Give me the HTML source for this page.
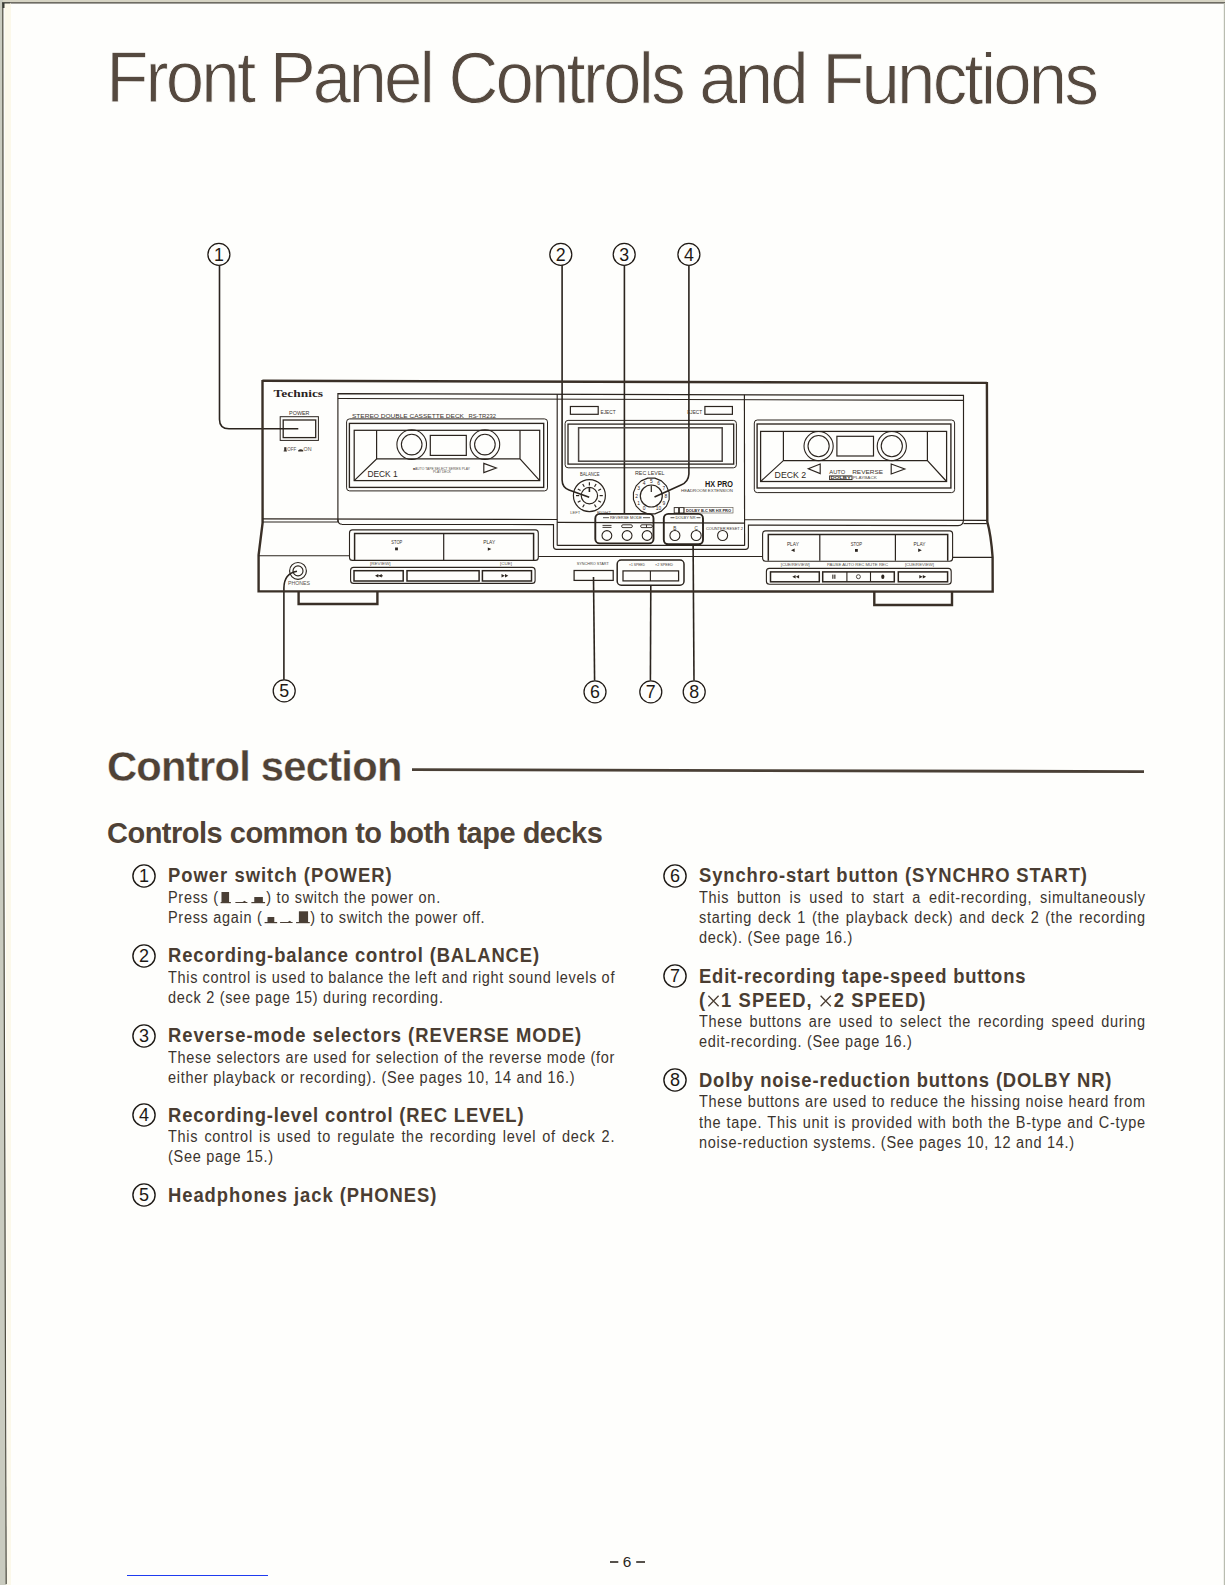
<!DOCTYPE html>
<html><head><meta charset="utf-8">
<style>
html,body{margin:0;padding:0;}
body{width:1225px;height:1585px;position:relative;overflow:hidden;background:#fefefc;font-family:"Liberation Sans",sans-serif;}
.t{position:absolute;white-space:nowrap;line-height:20px;}
.title{position:absolute;left:105.5px;top:37px;font-size:72.5px;line-height:80px;color:#55493f;letter-spacing:-2.9px;white-space:nowrap;transform:rotate(0.13deg) scaleX(0.95);transform-origin:6px 65px;-webkit-text-stroke:0.9px #fefefc;}
.h1{position:absolute;left:107px;font-size:41.7px;font-weight:bold;line-height:50px;color:#4f4236;white-space:nowrap;letter-spacing:-0.74px;-webkit-text-stroke:0.3px #fefefc;}
.h2{position:absolute;left:107px;font-size:29px;font-weight:bold;line-height:36px;color:#4f4236;white-space:nowrap;letter-spacing:-0.5px;}
.hd{position:absolute;font-size:20px;font-weight:bold;line-height:22px;color:#4a3d32;white-space:nowrap;letter-spacing:1.0px;transform:scaleX(0.92);transform-origin:0 0;}
.cn{position:absolute;}
.bd{position:absolute;font-size:15.6px;line-height:20px;color:#3b342e;white-space:nowrap;letter-spacing:0.75px;transform:scaleX(0.93);transform-origin:0 0;}
.j{}
.num{position:absolute;width:22px;height:22px;border:1.3px solid #3a332c;border-radius:50%;box-sizing:border-box;font-size:17px;line-height:21px;text-align:center;color:#3a332c;}
</style></head>
<body>
<svg style="position:absolute;left:0;top:0" width="1225" height="1585">
  <polygon points="0,0 1225,0 1225,2.5 0,2.5" fill="#d6d4c4"/>
  <polygon points="0,0 3,0 4,795 6.5,1585 0,1585" fill="#c9cbbf"/>
  <polyline points="2.8,3 3.6,795 6.2,1584" fill="none" stroke="#4e4c40" stroke-width="1.2"/>
  <line x1="2" y1="2.8" x2="1225" y2="2.8" stroke="#44423a" stroke-width="1.3"/>
  <rect x="2.5" y="2.5" width="7.5" height="5.5" fill="#3a3d36"/>
  <polygon points="4.5,3.5 11,3.5 11,1585 7,1585" fill="#fbf8ea"/>
  <rect x="1223.8" y="3" width="1.2" height="1582" fill="#b9bcb0"/>
  <line x1="412" y1="769.6" x2="1144" y2="771.6" stroke="#4a4036" stroke-width="2.8"/>
  <line x1="127" y1="1575.5" x2="268" y2="1575.5" stroke="#1f3cf0" stroke-width="1.2"/>
</svg>
<div class="title">Front Panel Controls and Functions</div>
<div class="h1" style="top:742px;">Control section</div>
<div class="h2" style="top:815px;">Controls common to both tape decks</div>
<div style="position:absolute;left:622.8px;top:1552px;font-size:15.4px;line-height:20px;color:#2a2622;white-space:nowrap">6</div>
<svg style="position:absolute;left:0;top:0" width="1225" height="1585"><rect x="610" y="1561" width="8.3" height="2" fill="#56514b"/><rect x="636.2" y="1561" width="8.8" height="2" fill="#56514b"/></svg>
<svg class="cn" style="left:130.5px;top:862.6px" width="26" height="26"><circle cx="13" cy="13" r="11.1" fill="none" stroke="#1d1915" stroke-width="1.4"/><text x="13" y="19.3" text-anchor="middle" font-size="18" fill="#1d1915" font-family="Liberation Sans">1</text></svg>
<div class="hd" style="left:167.9px;top:864.07px;letter-spacing:1.100px;">Power switch (POWER)</div>
<div class="bd" style="left:167.9px;top:887.69px;">Press (<svg width="50" height="14" style="vertical-align:-2px;margin-left:1px"><g fill="#4a3f35" transform="scale(1.075,1)"><rect x="0.5" y="11" width="10.3" height="1.2"/><rect x="1.4" y="1" width="7.6" height="11"/><rect x="15.3" y="11" width="12" height="1"/><path d="M22.5 11 l2 -1.2 l1.5 1.2 z"/><rect x="31.3" y="11" width="13.7" height="1.2"/><rect x="34.2" y="6" width="8.6" height="6"/></g></svg>) to switch the power on.</div>
<div class="bd" style="left:167.9px;top:907.79px;">Press again (<svg width="50.4" height="14" style="vertical-align:-2px;margin-left:1px"><g fill="#4a3f35" transform="scale(1.075,1)"><rect x="0.8" y="11" width="12.6" height="1.2"/><rect x="3.7" y="6" width="6.8" height="6"/><rect x="16.3" y="11" width="12.5" height="1"/><path d="M24 11 l2 -1.2 l1.5 1.2 z"/><rect x="32.3" y="11" width="13.7" height="1.2"/><rect x="35.1" y="0.3" width="9.2" height="11.7"/></g></svg>) to switch the power off.</div>
<svg class="cn" style="left:130.5px;top:942.7px" width="26" height="26"><circle cx="13" cy="13" r="11.1" fill="none" stroke="#1d1915" stroke-width="1.4"/><text x="13" y="19.3" text-anchor="middle" font-size="18" fill="#1d1915" font-family="Liberation Sans">2</text></svg>
<div class="hd" style="left:167.9px;top:944.17px;letter-spacing:0.980px;">Recording-balance control (BALANCE)</div>
<div class="bd j" style="left:167.9px;top:967.79px;word-spacing:-0.324px;">This control is used to balance the left and right sound levels of</div>
<div class="bd" style="left:167.9px;top:987.89px;">deck 2 (see page 15) during recording.</div>
<svg class="cn" style="left:130.5px;top:1022.7px" width="26" height="26"><circle cx="13" cy="13" r="11.1" fill="none" stroke="#1d1915" stroke-width="1.4"/><text x="13" y="19.3" text-anchor="middle" font-size="18" fill="#1d1915" font-family="Liberation Sans">3</text></svg>
<div class="hd" style="left:167.9px;top:1024.17px;letter-spacing:1.050px;">Reverse-mode selectors (REVERSE MODE)</div>
<div class="bd j" style="left:167.9px;top:1047.79px;word-spacing:-0.072px;">These selectors are used for selection of the reverse mode (for</div>
<div class="bd" style="left:167.9px;top:1067.89px;">either playback or recording). (See pages 10, 14 and 16.)</div>
<svg class="cn" style="left:130.5px;top:1102.3px" width="26" height="26"><circle cx="13" cy="13" r="11.1" fill="none" stroke="#1d1915" stroke-width="1.4"/><text x="13" y="19.3" text-anchor="middle" font-size="18" fill="#1d1915" font-family="Liberation Sans">4</text></svg>
<div class="hd" style="left:167.9px;top:1103.77px;letter-spacing:0.940px;">Recording-level control (REC LEVEL)</div>
<div class="bd j" style="left:167.9px;top:1127.39px;word-spacing:1.586px;">This control is used to regulate the recording level of deck 2.</div>
<div class="bd" style="left:167.9px;top:1147.49px;">(See page 15.)</div>
<svg class="cn" style="left:130.5px;top:1182.4px" width="26" height="26"><circle cx="13" cy="13" r="11.1" fill="none" stroke="#1d1915" stroke-width="1.4"/><text x="13" y="19.3" text-anchor="middle" font-size="18" fill="#1d1915" font-family="Liberation Sans">5</text></svg>
<div class="hd" style="left:167.9px;top:1183.87px;letter-spacing:1.040px;">Headphones jack (PHONES)</div>
<svg class="cn" style="left:661.5px;top:863.0px" width="26" height="26"><circle cx="13" cy="13" r="11.1" fill="none" stroke="#1d1915" stroke-width="1.4"/><text x="13" y="19.3" text-anchor="middle" font-size="18" fill="#1d1915" font-family="Liberation Sans">6</text></svg>
<div class="hd" style="left:699.4px;top:864.47px;letter-spacing:0.980px;">Synchro-start button (SYNCHRO START)</div>
<div class="bd j" style="left:699.4px;top:888.09px;word-spacing:3.401px;">This button is used to start a edit-recording, simultaneously</div>
<div class="bd j" style="left:699.4px;top:908.19px;word-spacing:1.244px;">starting deck 1 (the playback deck) and deck 2 (the recording</div>
<div class="bd" style="left:699.4px;top:928.29px;">deck). (See page 16.)</div>
<svg class="cn" style="left:661.5px;top:963.1px" width="26" height="26"><circle cx="13" cy="13" r="11.1" fill="none" stroke="#1d1915" stroke-width="1.4"/><text x="13" y="19.3" text-anchor="middle" font-size="18" fill="#1d1915" font-family="Liberation Sans">7</text></svg>
<div class="hd" style="left:699.4px;top:964.57px;letter-spacing:0.880px;">Edit-recording tape-speed buttons</div>
<div class="hd" style="left:699.4px;top:988.57px;letter-spacing:1.220px;">(<svg width="13.5" height="12" style="vertical-align:0px;margin:0 1.5px 0 1px"><path d="M1.2 0.8 L12.3 11.2 M12.3 0.8 L1.2 11.2" stroke="#4a3d32" stroke-width="1.45"/></svg>1 SPEED, <svg width="13.5" height="12" style="vertical-align:0px;margin:0 1.5px 0 1px"><path d="M1.2 0.8 L12.3 11.2 M12.3 0.8 L1.2 11.2" stroke="#4a3d32" stroke-width="1.45"/></svg>2 SPEED)</div>
<div class="bd j" style="left:699.4px;top:1012.19px;word-spacing:2.219px;">These buttons are used to select the recording speed during</div>
<div class="bd" style="left:699.4px;top:1032.29px;">edit-recording. (See page 16.)</div>
<svg class="cn" style="left:661.5px;top:1067.4px" width="26" height="26"><circle cx="13" cy="13" r="11.1" fill="none" stroke="#1d1915" stroke-width="1.4"/><text x="13" y="19.3" text-anchor="middle" font-size="18" fill="#1d1915" font-family="Liberation Sans">8</text></svg>
<div class="hd" style="left:699.4px;top:1068.87px;letter-spacing:0.905px;">Dolby noise-reduction buttons (DOLBY NR)</div>
<div class="bd j" style="left:699.4px;top:1092.49px;word-spacing:0.116px;">These buttons are used to reduce the hissing noise heard from</div>
<div class="bd j" style="left:699.4px;top:1112.59px;word-spacing:0.627px;">the tape. This unit is provided with both the B-type and C-type</div>
<div class="bd" style="left:699.4px;top:1132.69px;">noise-reduction systems. (See pages 10, 12 and 14.)</div><svg style="position:absolute;left:0;top:0" width="1225" height="1585">
<circle cx="218.9" cy="254.4" r="11.0" fill="none" stroke="#1f1914" stroke-width="1.25"/>
<text x="218.9" y="260.7" font-size="17.8" font-family="Liberation Sans" font-weight="normal" fill="#1f1914" text-anchor="middle" >1</text>
<circle cx="560.8" cy="254.4" r="11.0" fill="none" stroke="#1f1914" stroke-width="1.25"/>
<text x="560.8" y="260.7" font-size="17.8" font-family="Liberation Sans" font-weight="normal" fill="#1f1914" text-anchor="middle" >2</text>
<circle cx="624.2" cy="254.4" r="11.0" fill="none" stroke="#1f1914" stroke-width="1.25"/>
<text x="624.2" y="260.7" font-size="17.8" font-family="Liberation Sans" font-weight="normal" fill="#1f1914" text-anchor="middle" >3</text>
<circle cx="688.9" cy="254.4" r="11.0" fill="none" stroke="#1f1914" stroke-width="1.25"/>
<text x="688.9" y="260.7" font-size="17.8" font-family="Liberation Sans" font-weight="normal" fill="#1f1914" text-anchor="middle" >4</text>
<circle cx="284.2" cy="690.9" r="11.0" fill="none" stroke="#1f1914" stroke-width="1.25"/>
<text x="284.2" y="697.1999999999999" font-size="17.8" font-family="Liberation Sans" font-weight="normal" fill="#1f1914" text-anchor="middle" >5</text>
<circle cx="595.0" cy="691.9" r="11.0" fill="none" stroke="#1f1914" stroke-width="1.25"/>
<text x="595.0" y="698.1999999999999" font-size="17.8" font-family="Liberation Sans" font-weight="normal" fill="#1f1914" text-anchor="middle" >6</text>
<circle cx="650.8" cy="691.9" r="11.0" fill="none" stroke="#1f1914" stroke-width="1.25"/>
<text x="650.8" y="698.1999999999999" font-size="17.8" font-family="Liberation Sans" font-weight="normal" fill="#1f1914" text-anchor="middle" >7</text>
<circle cx="694.2" cy="691.9" r="11.0" fill="none" stroke="#1f1914" stroke-width="1.25"/>
<text x="694.2" y="698.1999999999999" font-size="17.8" font-family="Liberation Sans" font-weight="normal" fill="#1f1914" text-anchor="middle" >8</text>
<path d="M219.5 265 V419.5 Q219.5 428.8 229 428.8 H298.3" fill="none" stroke="#2b241e" stroke-width="1.6" />
<path d="M562.1 265 V480 Q562.2 487.5 569 490 L589.2 497.2" fill="none" stroke="#2b241e" stroke-width="1.6" />
<path d="M624.4 265.4 V514" fill="none" stroke="#2b241e" stroke-width="1.6" />
<path d="M688.9 265.4 V474 Q688.5 482 681 485 L654.5 497" fill="none" stroke="#2b241e" stroke-width="1.6" />
<path d="M297 571.2 C289 572.5 284 577 283.9 588 V679.8" fill="none" stroke="#2b241e" stroke-width="1.6" />
<path d="M593.5 577 L594.6 680.6" fill="none" stroke="#2b241e" stroke-width="1.6" />
<path d="M650.8 585.2 L650.4 680.6" fill="none" stroke="#2b241e" stroke-width="1.6" />
<path d="M693.1 544.5 L694 680.6" fill="none" stroke="#2b241e" stroke-width="1.6" />
<path d="M262.4 380.8 L986.9 382.9" fill="none" stroke="#3a3027" stroke-width="2.4" />
<path d="M262.5 380 L262.6 523 L258.6 555 L258.6 591.2 L992.7 591.6 L992.6 557 Q991 535 987.3 521.7 L986.9 382" fill="none" stroke="#3a3027" stroke-width="2.4" />
<path d="M298.6 591 V604 H377.4 V591" fill="none" stroke="#3a3027" stroke-width="2.4" />
<path d="M874.3 591.4 V605 H952 V591.4" fill="none" stroke="#3a3027" stroke-width="2.4" />
<text x="273.6" y="397.2" font-size="10.8" font-family="Liberation Serif" font-weight="bold" fill="#2b241e" text-anchor="start" textLength="49.5" lengthAdjust="spacingAndGlyphs" >Technics</text>
<text x="299.3" y="415.2" font-size="5.6" font-family="Liberation Sans" font-weight="normal" fill="#3a332d" text-anchor="middle" textLength="20.5" lengthAdjust="spacingAndGlyphs" >POWER</text>
<rect x="280.2" y="416.7" width="38.20" height="23.70" rx="0" fill="none" stroke="#2b241e" stroke-width="1.0"/>
<rect x="283.2" y="420.0" width="32.50" height="17.60" rx="0" fill="none" stroke="#2b241e" stroke-width="1.3"/>
<rect x="284.2" y="447.2" width="2.2" height="4" fill="#3a332d"/><rect x="283.6" y="450.6" width="3.4" height="0.8" fill="#3a332d"/>
<text x="287.2" y="451.3" font-size="4.6" font-family="Liberation Sans" font-weight="normal" fill="#55504a" text-anchor="start" textLength="9" lengthAdjust="spacingAndGlyphs" >OFF</text>
<path d="M298.2 451.4 h5 v-1.2 q-2.5 -2 -5 0 z" fill="#3a332d"/>
<text x="303.6" y="451.3" font-size="4.6" font-family="Liberation Sans" font-weight="normal" fill="#55504a" text-anchor="start" textLength="8" lengthAdjust="spacingAndGlyphs" >ON</text>
<path d="M337.9 522 V393.7 L963.5 395.4 V520" fill="none" stroke="#2b241e" stroke-width="1.15" />
<path d="M337.9 398.5 L963.5 400.3" fill="none" stroke="#2b241e" stroke-width="1.15" />
<line x1="557.2" y1="394.2" x2="557.2" y2="545.4" stroke="#2b241e" stroke-width="1.15"/>
<line x1="744.4" y1="394.7" x2="744.6" y2="545.7" stroke="#2b241e" stroke-width="1.15"/>
<path d="M557.2 545.4 H744.6" fill="none" stroke="#2b241e" stroke-width="1.15" />
<path d="M557.2 522.4 L744.5 523.1" fill="none" stroke="#2b241e" stroke-width="1.15" />
<line x1="262.6" y1="518.9" x2="557.2" y2="519.5" stroke="#2b241e" stroke-width="1.15"/>
<line x1="262.6" y1="522.0" x2="337.9" y2="522.0" stroke="#2b241e" stroke-width="1.15"/>
<line x1="744.5" y1="519.7" x2="986.8" y2="520.4" stroke="#2b241e" stroke-width="1.15"/>
<line x1="963.5" y1="523.6" x2="986.8" y2="523.6" stroke="#2b241e" stroke-width="1.15"/>
<path d="M337.9 519.5 Q338 524.2 342 524.3 L553.5 524.6 V546.5 Q553.6 549.4 556.5 549.4 L745.5 549.4 Q748.4 549.4 748.4 546.5 V525.1 L958 525.6 Q963.3 525.4 963.5 520" fill="none" stroke="#2b241e" stroke-width="1.15" />
<path d="M258.6 555.7 H349.5" fill="none" stroke="#2b241e" stroke-width="1.15" />
<path d="M538.3 556.5 H762.6" fill="none" stroke="#2b241e" stroke-width="1.15" />
<path d="M952.6 557.3 H992.3" fill="none" stroke="#2b241e" stroke-width="1.15" />
<text x="352" y="417.7" font-size="5.9" font-family="Liberation Sans" font-weight="normal" fill="#3a332d" text-anchor="start" textLength="112" lengthAdjust="spacingAndGlyphs" >STEREO DOUBLE CASSETTE DECK</text>
<text x="468.5" y="417.7" font-size="5.9" font-family="Liberation Sans" font-weight="normal" fill="#3a332d" text-anchor="start" textLength="27.5" lengthAdjust="spacingAndGlyphs" >RS-TR232</text>
<rect x="346.6" y="418.9" width="200.90" height="72.00" rx="3" fill="none" stroke="#2b241e" stroke-width="1.0"/>
<rect x="349.4" y="423.4" width="194.30" height="64.00" rx="0" fill="none" stroke="#2b241e" stroke-width="1.35"/>
<rect x="354.2" y="430.3" width="185.50" height="50.30" rx="0" fill="none" stroke="#2b241e" stroke-width="1.25"/>
<path d="M376.6 430.3 V458.9 L354.2 480.6 M376.6 458.9 H520 L539.7 480.6 M520 430.3 V458.9" fill="none" stroke="#2b241e" stroke-width="1.2" />
<circle cx="411.7" cy="444.6" r="14.8" fill="none" stroke="#2b241e" stroke-width="1.1"/>
<circle cx="411.7" cy="444.6" r="10.3" fill="none" stroke="#2b241e" stroke-width="1.1"/>
<circle cx="484.9" cy="444.6" r="14.8" fill="none" stroke="#2b241e" stroke-width="1.1"/>
<circle cx="484.9" cy="444.6" r="10.3" fill="none" stroke="#2b241e" stroke-width="1.1"/>
<rect x="430.3" y="435.4" width="36.00" height="20.00" rx="0" fill="none" stroke="#2b241e" stroke-width="1.2"/>
<text x="367.4" y="477.1" font-size="9.9" font-family="Liberation Sans" font-weight="normal" fill="#2e2822" text-anchor="start" textLength="30.3" lengthAdjust="spacingAndGlyphs" >DECK 1</text>
<text x="413" y="469.6" font-size="3.6" font-family="Liberation Sans" font-weight="normal" fill="#55504a" text-anchor="start" textLength="57" lengthAdjust="spacingAndGlyphs" >■AUTO TAPE SELECT SERIES PLAY</text>
<text x="433" y="473.3" font-size="3.6" font-family="Liberation Sans" font-weight="normal" fill="#55504a" text-anchor="start" textLength="18" lengthAdjust="spacingAndGlyphs" >PLAY DECK</text>
<path d="M483.8 463.4 L496.3 468 L483.8 472.6 Z" fill="none" stroke="#2b241e" stroke-width="1.15" />
<rect x="754.3" y="420.0" width="200.30" height="72.60" rx="3" fill="none" stroke="#2b241e" stroke-width="1.0"/>
<rect x="757.1" y="424.0" width="193.80" height="64.00" rx="0" fill="none" stroke="#2b241e" stroke-width="1.35"/>
<rect x="760.6" y="431.4" width="186.00" height="50.10" rx="0" fill="none" stroke="#2b241e" stroke-width="1.25"/>
<path d="M783.4 431.4 V460.6 L760.6 481.5 M783.4 460.6 H927.4 L946.6 481.5 M927.4 431.4 V460.6" fill="none" stroke="#2b241e" stroke-width="1.2" />
<circle cx="818.6" cy="446.1" r="14.6" fill="none" stroke="#2b241e" stroke-width="1.1"/>
<circle cx="818.6" cy="446.1" r="10.6" fill="none" stroke="#2b241e" stroke-width="1.1"/>
<circle cx="891.8" cy="446.1" r="14.6" fill="none" stroke="#2b241e" stroke-width="1.1"/>
<circle cx="891.8" cy="446.1" r="10.6" fill="none" stroke="#2b241e" stroke-width="1.1"/>
<rect x="836.9" y="436.3" width="36.60" height="19.70" rx="0" fill="none" stroke="#2b241e" stroke-width="1.2"/>
<text x="774.6" y="478.2" font-size="9.9" font-family="Liberation Sans" font-weight="normal" fill="#2e2822" text-anchor="start" textLength="31.5" lengthAdjust="spacingAndGlyphs" >DECK 2</text>
<path d="M820.2 464 L808.3 468.8 L820.2 473.6 Z" fill="none" stroke="#2b241e" stroke-width="1.15" />
<path d="M891.2 464 L904.8 469 L891.2 474 Z" fill="none" stroke="#2b241e" stroke-width="1.15" />
<text x="829.3" y="474.2" font-size="6.2" font-family="Liberation Sans" font-weight="normal" fill="#3a332d" text-anchor="start" textLength="16" lengthAdjust="spacingAndGlyphs" >AUTO</text>
<text x="852.2" y="474.2" font-size="6.2" font-family="Liberation Sans" font-weight="normal" fill="#3a332d" text-anchor="start" textLength="30.8" lengthAdjust="spacingAndGlyphs" >REVERSE</text>
<rect x="829.6" y="475.9" width="22.40" height="3.70" rx="0" fill="none" stroke="#2b241e" stroke-width="0.9"/>
<text x="830.5" y="479.1" font-size="3.4" font-family="Liberation Sans" font-weight="bold" fill="#3a332d" text-anchor="start" textLength="20.5" lengthAdjust="spacingAndGlyphs" >DOLBY</text>
<text x="852.8" y="479.4" font-size="4.0" font-family="Liberation Sans" font-weight="normal" fill="#55504a" text-anchor="start" textLength="24" lengthAdjust="spacingAndGlyphs" >PLAYBACK</text>
<rect x="570.4" y="406.5" width="27.80" height="7.80" rx="0" fill="none" stroke="#2b241e" stroke-width="1.2"/>
<text x="600.6" y="414.1" font-size="4.8" font-family="Liberation Sans" font-weight="normal" fill="#3a332d" text-anchor="start" textLength="15" lengthAdjust="spacingAndGlyphs" >EJECT</text>
<rect x="704.9" y="406.5" width="27.50" height="7.80" rx="0" fill="none" stroke="#2b241e" stroke-width="1.2"/>
<text x="687.2" y="414.1" font-size="4.8" font-family="Liberation Sans" font-weight="normal" fill="#3a332d" text-anchor="start" textLength="15" lengthAdjust="spacingAndGlyphs" >EJECT</text>
<rect x="565.1" y="420.4" width="171.30" height="47.40" rx="3" fill="none" stroke="#2b241e" stroke-width="1.0"/>
<rect x="568.0" y="424.1" width="165.70" height="40.00" rx="0" fill="none" stroke="#2b241e" stroke-width="1.3"/>
<rect x="578.6" y="427.8" width="143.60" height="33.40" rx="0" fill="none" stroke="#4a4440" stroke-width="1.5"/>
<text x="580" y="476.2" font-size="4.8" font-family="Liberation Sans" font-weight="normal" fill="#3a332d" text-anchor="start" textLength="19.5" lengthAdjust="spacingAndGlyphs" >BALANCE</text>
<text x="635" y="475.0" font-size="6.0" font-family="Liberation Sans" font-weight="normal" fill="#3a332d" text-anchor="start" textLength="29.5" lengthAdjust="spacingAndGlyphs" >REC LEVEL</text>
<circle cx="589.4" cy="495.6" r="16.0" fill="none" stroke="#2b241e" stroke-width="1.2"/>
<circle cx="589.4" cy="495.6" r="8.2" fill="none" stroke="#2b241e" stroke-width="1.2"/>
<line x1="584.30" y1="504.43" x2="582.70" y2="507.20" stroke="#2b241e" stroke-width="1.2"/>
<line x1="580.57" y1="500.70" x2="577.80" y2="502.30" stroke="#2b241e" stroke-width="1.2"/>
<line x1="579.20" y1="495.60" x2="576.00" y2="495.60" stroke="#2b241e" stroke-width="1.2"/>
<line x1="580.57" y1="490.50" x2="577.80" y2="488.90" stroke="#2b241e" stroke-width="1.2"/>
<line x1="584.30" y1="486.77" x2="582.70" y2="484.00" stroke="#2b241e" stroke-width="1.2"/>
<line x1="589.40" y1="485.40" x2="589.40" y2="482.20" stroke="#2b241e" stroke-width="1.2"/>
<line x1="594.50" y1="486.77" x2="596.10" y2="484.00" stroke="#2b241e" stroke-width="1.2"/>
<line x1="598.23" y1="490.50" x2="601.00" y2="488.90" stroke="#2b241e" stroke-width="1.2"/>
<line x1="599.60" y1="495.60" x2="602.80" y2="495.60" stroke="#2b241e" stroke-width="1.2"/>
<line x1="598.23" y1="500.70" x2="601.00" y2="502.30" stroke="#2b241e" stroke-width="1.2"/>
<line x1="594.50" y1="504.43" x2="596.10" y2="507.20" stroke="#2b241e" stroke-width="1.2"/>
<line x1="589.4" y1="487.6" x2="589.4" y2="492.0" stroke="#2b241e" stroke-width="1.6"/>
<text x="570.3" y="514.0" font-size="4.4" font-family="Liberation Sans" font-weight="normal" fill="#55504a" text-anchor="start" textLength="10" lengthAdjust="spacingAndGlyphs" >LEFT</text>
<text x="597" y="514.0" font-size="4.4" font-family="Liberation Sans" font-weight="normal" fill="#55504a" text-anchor="start" textLength="14" lengthAdjust="spacingAndGlyphs" >RIGHT</text>
<polygon points="654.85,478.15 661.41,480.87 666.43,485.89 669.15,492.45 669.15,499.55 666.43,506.11 661.41,511.13 654.85,513.85 647.75,513.85 641.19,511.13 636.17,506.11 633.45,499.55 633.45,492.45 636.17,485.89 641.19,480.87 647.75,478.15" fill="none" stroke="#2b241e" stroke-width="1.15" stroke-linejoin="round"/>
<circle cx="651.3" cy="496.0" r="11.0" fill="none" stroke="#2b241e" stroke-width="1.2"/>
<line x1="651.3" y1="485.5" x2="651.3" y2="492.0" stroke="#2b241e" stroke-width="1.2"/>
<text x="644.00" y="510.24" font-size="4.9" font-family="Liberation Sans" font-weight="normal" fill="#2b241e" text-anchor="middle" >0</text>
<text x="638.66" y="504.90" font-size="4.9" font-family="Liberation Sans" font-weight="normal" fill="#2b241e" text-anchor="middle" >1</text>
<text x="636.70" y="497.60" font-size="4.9" font-family="Liberation Sans" font-weight="normal" fill="#2b241e" text-anchor="middle" >2</text>
<text x="638.66" y="490.30" font-size="4.9" font-family="Liberation Sans" font-weight="normal" fill="#2b241e" text-anchor="middle" >3</text>
<text x="644.00" y="484.96" font-size="4.9" font-family="Liberation Sans" font-weight="normal" fill="#2b241e" text-anchor="middle" >4</text>
<text x="651.30" y="483.00" font-size="4.9" font-family="Liberation Sans" font-weight="normal" fill="#2b241e" text-anchor="middle" >5</text>
<text x="658.60" y="484.96" font-size="4.9" font-family="Liberation Sans" font-weight="normal" fill="#2b241e" text-anchor="middle" >6</text>
<text x="663.94" y="490.30" font-size="4.9" font-family="Liberation Sans" font-weight="normal" fill="#2b241e" text-anchor="middle" >7</text>
<text x="665.90" y="497.60" font-size="4.9" font-family="Liberation Sans" font-weight="normal" fill="#2b241e" text-anchor="middle" >8</text>
<text x="663.94" y="504.90" font-size="4.9" font-family="Liberation Sans" font-weight="normal" fill="#2b241e" text-anchor="middle" >9</text>
<text x="658.60" y="510.24" font-size="4.9" font-family="Liberation Sans" font-weight="normal" fill="#2b241e" text-anchor="middle" >10</text>
<text x="705" y="487.2" font-size="8.2" font-family="Liberation Sans" font-weight="bold" fill="#1f1a16" text-anchor="start" textLength="28" lengthAdjust="spacingAndGlyphs" >HX PRO</text>
<text x="681" y="492.3" font-size="3.9" font-family="Liberation Sans" font-weight="normal" fill="#45403a" text-anchor="start" textLength="52" lengthAdjust="spacingAndGlyphs" >HEADROOM EXTENSION</text>
<rect x="674.2" y="507.6" width="4.40" height="5.40" rx="0" fill="none" stroke="#2b241e" stroke-width="0.9"/>
<rect x="679.4" y="507.6" width="4.40" height="5.40" rx="0" fill="none" stroke="#2b241e" stroke-width="0.9"/>
<rect x="684.4" y="507.6" width="48.60" height="5.40" rx="0" fill="none" stroke="#6a645c" stroke-width="0.7"/>
<text x="686" y="512.0" font-size="4.0" font-family="Liberation Sans" font-weight="bold" fill="#2b241e" text-anchor="start" textLength="45" lengthAdjust="spacingAndGlyphs" >DOLBY B-C NR  HX PRO</text>
<rect x="595.3" y="513.9" width="58.20" height="29.50" rx="4.5" fill="none" stroke="#2b241e" stroke-width="1.9"/>
<line x1="603" y1="517.7" x2="609" y2="517.7" stroke="#2b241e" stroke-width="0.8"/>
<line x1="643" y1="517.7" x2="650" y2="517.7" stroke="#2b241e" stroke-width="0.8"/>
<text x="610" y="519.4" font-size="3.9" font-family="Liberation Sans" font-weight="normal" fill="#3a332d" text-anchor="start" textLength="32" lengthAdjust="spacingAndGlyphs" >REVERSE MODE</text>
<circle cx="606.9" cy="535.5" r="4.9" fill="none" stroke="#2b241e" stroke-width="1.1"/>
<circle cx="627.1" cy="535.5" r="4.9" fill="none" stroke="#2b241e" stroke-width="1.1"/>
<circle cx="647.1" cy="535.5" r="4.9" fill="none" stroke="#2b241e" stroke-width="1.1"/>
<path d="M602.5 525.4 H611.5 M602.5 527.4 H611.5" fill="none" stroke="#2b241e" stroke-width="0.9" />
<path d="M623 524.8 h8 a1.4 1.4 0 0 1 0 2.8 h-8 a1.4 1.4 0 0 1 0 -2.8" fill="none" stroke="#2b241e" stroke-width="0.9" />
<path d="M642 524.8 h9 a1.4 1.4 0 0 1 0 2.8 h-9 a1.4 1.4 0 0 1 0 -2.8 M646.5 524.8 v2.8" fill="none" stroke="#2b241e" stroke-width="0.9" />
<rect x="663.8" y="513.9" width="39.20" height="30.40" rx="4.5" fill="none" stroke="#2b241e" stroke-width="1.9"/>
<line x1="670.5" y1="517.7" x2="674.5" y2="517.7" stroke="#2b241e" stroke-width="0.8"/>
<line x1="696.5" y1="517.7" x2="700.5" y2="517.7" stroke="#2b241e" stroke-width="0.8"/>
<text x="675.5" y="519.4" font-size="3.9" font-family="Liberation Sans" font-weight="normal" fill="#3a332d" text-anchor="start" textLength="20" lengthAdjust="spacingAndGlyphs" >DOLBY NR</text>
<text x="674.9" y="530.3" font-size="4.6" font-family="Liberation Sans" font-weight="normal" fill="#3a332d" text-anchor="middle" >B</text>
<text x="696.2" y="530.3" font-size="4.6" font-family="Liberation Sans" font-weight="normal" fill="#3a332d" text-anchor="middle" >C</text>
<circle cx="674.9" cy="535.5" r="5.0" fill="none" stroke="#2b241e" stroke-width="1.1"/>
<circle cx="696.2" cy="535.5" r="5.0" fill="none" stroke="#2b241e" stroke-width="1.1"/>
<text x="706" y="530.3" font-size="4.4" font-family="Liberation Sans" font-weight="normal" fill="#3a332d" text-anchor="start" textLength="37" lengthAdjust="spacingAndGlyphs" >COUNTER RESET 2</text>
<circle cx="722.6" cy="535.5" r="5.0" fill="none" stroke="#2b241e" stroke-width="1.1"/>
<text x="576.8" y="565.3" font-size="4.3" font-family="Liberation Sans" font-weight="normal" fill="#45403a" text-anchor="start" textLength="32" lengthAdjust="spacingAndGlyphs" >SYNCHRO START</text>
<rect x="574.1" y="570.5" width="39.10" height="9.90" rx="0" fill="none" stroke="#2b241e" stroke-width="1.25"/>
<rect x="617.2" y="560.1" width="66.80" height="25.10" rx="4" fill="none" stroke="#2b241e" stroke-width="1.5"/>
<rect x="623.0" y="570.9" width="55.60" height="10.00" rx="0" fill="none" stroke="#2b241e" stroke-width="1.25"/>
<line x1="650.4" y1="570.9" x2="650.4" y2="580.9" stroke="#2b241e" stroke-width="1.1"/>
<text x="629" y="565.6" font-size="4.1" font-family="Liberation Sans" font-weight="normal" fill="#45403a" text-anchor="start" textLength="16" lengthAdjust="spacingAndGlyphs" >×1 SPEED</text>
<text x="655" y="565.6" font-size="4.1" font-family="Liberation Sans" font-weight="normal" fill="#45403a" text-anchor="start" textLength="18" lengthAdjust="spacingAndGlyphs" >×2 SPEED</text>
<rect x="349.5" y="529.9" width="188.80" height="30.50" rx="3" fill="none" stroke="#2b241e" stroke-width="1.1"/>
<path d="M354.6 560 V533.5 H533.6 V560" fill="none" stroke="#2b241e" stroke-width="1.5" />
<line x1="443.7" y1="533.5" x2="443.7" y2="560" stroke="#2b241e" stroke-width="1.2"/>
<text x="396.8" y="543.5" font-size="4.8" font-family="Liberation Sans" font-weight="normal" fill="#3a332d" text-anchor="middle" textLength="11" lengthAdjust="spacingAndGlyphs" >STOP</text>
<rect x="395.1" y="547.5" width="2.8" height="2.8" fill="#2b241e"/>
<text x="489.2" y="543.5" font-size="4.8" font-family="Liberation Sans" font-weight="normal" fill="#3a332d" text-anchor="middle" textLength="12" lengthAdjust="spacingAndGlyphs" >PLAY</text>
<path d="M487.8 547.4 L491.4 549.1 L487.8 550.8 Z" fill="#2b241e"/>
<text x="370" y="564.6" font-size="3.9" font-family="Liberation Sans" font-weight="normal" fill="#55504a" text-anchor="start" textLength="20.5" lengthAdjust="spacingAndGlyphs" >[REVIEW]</text>
<text x="500" y="564.6" font-size="3.9" font-family="Liberation Sans" font-weight="normal" fill="#55504a" text-anchor="start" textLength="12" lengthAdjust="spacingAndGlyphs" >[CUE]</text>
<rect x="350.6" y="567.4" width="184.50" height="16.00" rx="3" fill="none" stroke="#2b241e" stroke-width="1.1"/>
<rect x="354.0" y="570.7" width="49.20" height="10.30" rx="0" fill="none" stroke="#2b241e" stroke-width="1.5"/>
<rect x="407.0" y="570.7" width="72.10" height="10.30" rx="0" fill="none" stroke="#2b241e" stroke-width="1.5"/>
<rect x="482.4" y="570.7" width="49.10" height="10.30" rx="0" fill="none" stroke="#2b241e" stroke-width="1.5"/>
<path d="M375 575.8 l3.3 -1.7 v3.4 z M378.5 575.8 l3.3 -1.7 v3.4 z" fill="#2b241e"/>
<path d="M501.5 574.1 l3.3 1.7 l-3.3 1.7 z M505 574.1 l3.3 1.7 l-3.3 1.7 z" fill="#2b241e"/>
<line x1="377" y1="575.8" x2="383" y2="575.8" stroke="#2b241e" stroke-width="0.8"/>
<rect x="762.6" y="530.9" width="190.00" height="30.30" rx="3" fill="none" stroke="#2b241e" stroke-width="1.1"/>
<path d="M768.3 560.8 V534.4 H947.7 V560.8" fill="none" stroke="#2b241e" stroke-width="1.5" />
<line x1="819.8" y1="534.4" x2="819.8" y2="560.8" stroke="#2b241e" stroke-width="1.2"/>
<line x1="895.4" y1="534.4" x2="895.4" y2="560.8" stroke="#2b241e" stroke-width="1.2"/>
<text x="792.9" y="546.2" font-size="4.8" font-family="Liberation Sans" font-weight="normal" fill="#3a332d" text-anchor="middle" textLength="12" lengthAdjust="spacingAndGlyphs" >PLAY</text>
<path d="M794.6 548.6 L791 550.3 L794.6 552 Z" fill="#2b241e"/>
<text x="856.4" y="546.2" font-size="4.8" font-family="Liberation Sans" font-weight="normal" fill="#3a332d" text-anchor="middle" textLength="11.5" lengthAdjust="spacingAndGlyphs" >STOP</text>
<rect x="855" y="549" width="2.8" height="2.8" fill="#2b241e"/>
<text x="919.6" y="546.2" font-size="4.8" font-family="Liberation Sans" font-weight="normal" fill="#3a332d" text-anchor="middle" textLength="12" lengthAdjust="spacingAndGlyphs" >PLAY</text>
<path d="M918.2 548.6 L921.8 550.3 L918.2 552 Z" fill="#2b241e"/>
<text x="780.8" y="566.4" font-size="3.9" font-family="Liberation Sans" font-weight="normal" fill="#55504a" text-anchor="start" textLength="29" lengthAdjust="spacingAndGlyphs" >[CUE/REVIEW]</text>
<text x="827" y="566.4" font-size="3.9" font-family="Liberation Sans" font-weight="normal" fill="#55504a" text-anchor="start" textLength="61" lengthAdjust="spacingAndGlyphs" >PAUSE   AUTO REC MUTE   REC</text>
<text x="904.9" y="566.4" font-size="3.9" font-family="Liberation Sans" font-weight="normal" fill="#55504a" text-anchor="start" textLength="29" lengthAdjust="spacingAndGlyphs" >[CUE/REVIEW]</text>
<rect x="766.4" y="568.4" width="184.80" height="15.90" rx="3" fill="none" stroke="#2b241e" stroke-width="1.1"/>
<rect x="770.5" y="571.9" width="48.80" height="9.90" rx="0" fill="none" stroke="#2b241e" stroke-width="1.5"/>
<rect x="822.7" y="571.9" width="71.60" height="9.90" rx="0" fill="none" stroke="#2b241e" stroke-width="1.5"/>
<line x1="846.9" y1="571.9" x2="846.9" y2="581.8" stroke="#2b241e" stroke-width="1.1"/>
<line x1="870.5" y1="571.9" x2="870.5" y2="581.8" stroke="#2b241e" stroke-width="1.1"/>
<rect x="898.3" y="571.9" width="49.30" height="9.90" rx="0" fill="none" stroke="#2b241e" stroke-width="1.5"/>
<path d="M792.3 576.8 l3.3 -1.7 v3.4 z M795.8 576.8 l3.3 -1.7 v3.4 z" fill="#2b241e"/>
<path d="M919.3 575.1 l3.3 1.7 l-3.3 1.7 z M922.8 575.1 l3.3 1.7 l-3.3 1.7 z" fill="#2b241e"/>
<rect x="832.3" y="574.6" width="1.1" height="4.2" fill="#2b241e"/><rect x="834.3" y="574.6" width="1.1" height="4.2" fill="#2b241e"/>
<circle cx="858.4" cy="576.7" r="2.0" fill="none" stroke="#2b241e" stroke-width="0.8"/>
<ellipse cx="882.8" cy="576.7" rx="1.6" ry="2.2" fill="#2b241e"/>
<circle cx="298.0" cy="570.9" r="8.4" fill="none" stroke="#2b241e" stroke-width="1.15"/>
<circle cx="298.0" cy="570.9" r="5.0" fill="none" stroke="#2b241e" stroke-width="1.15"/>
<text x="288" y="585.2" font-size="4.6" font-family="Liberation Sans" font-weight="normal" fill="#55504a" text-anchor="start" textLength="22" lengthAdjust="spacingAndGlyphs" >PHONES</text>
</svg>

</body></html>
